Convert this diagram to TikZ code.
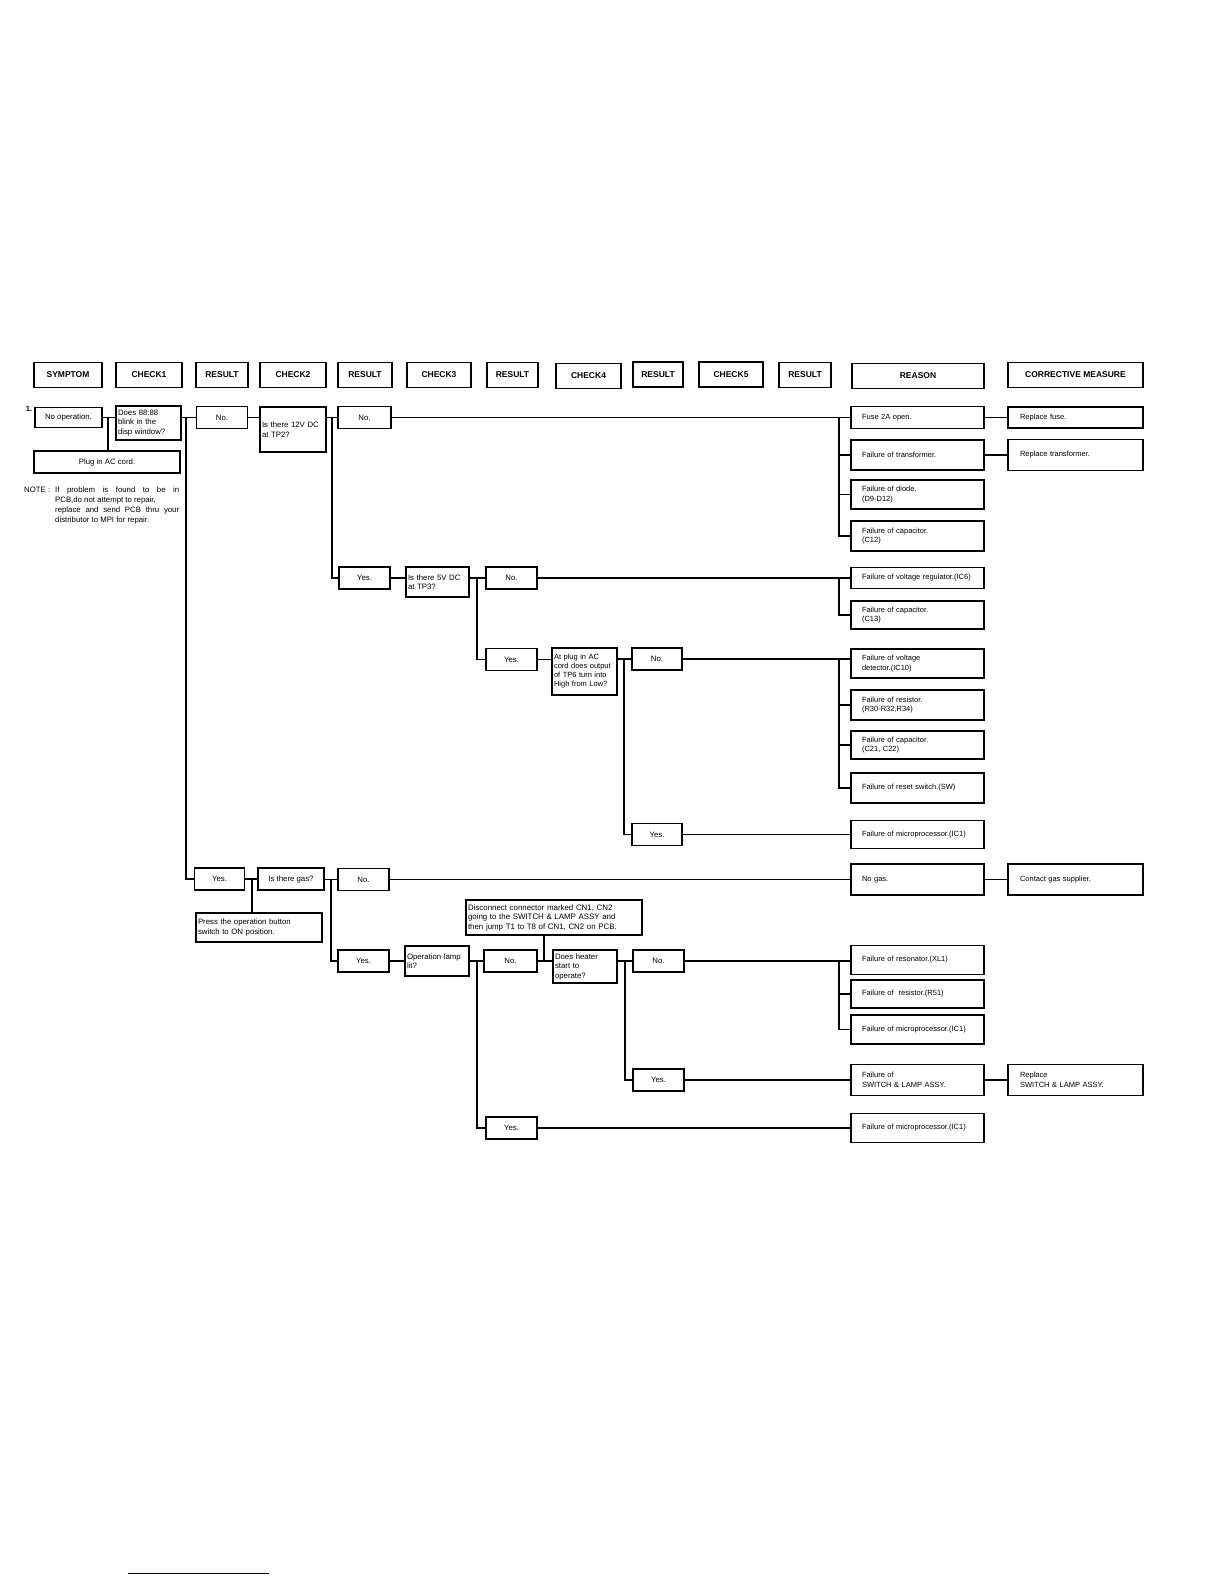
\documentclass[tikz,border=0pt]{standalone}
\usepackage{fontspec}
\setmainfont{Liberation Sans}
\usepackage{tikz}

\tikzset{
  hd/.style={draw, line width=1.9pt, minimum height=25pt, minimum width=#1, inner sep=0pt, font=\bfseries\fontsize{8.5}{10}\selectfont},
  bx/.style={draw, line width=1.5pt, inner sep=2pt, font=\fontsize{7.8}{9.5}\selectfont},
  res/.style={bx, minimum width=51pt, minimum height=22pt},
  qbox/.style={bx, align=left, text width=#1},
  reason/.style={bx, align=left, text width=111pt, inner xsep=11pt, minimum height=#1, font=\fontsize{7.5}{9.5}\selectfont},
  fix/.style={bx, align=left, text width=111pt, inner xsep=12pt, minimum height=#1, font=\fontsize{7.5}{9.5}\selectfont},
  wire/.style={line width=1.5pt},
}

\begin{document}
\begin{tikzpicture}[x=1pt, y=-1pt]
    \useasboundingbox (0,0) rectangle (1224,1584);

    % Headers
    \node[hd=68pt] (hsym) at (68,375) {SYMPTOM};
    \node[hd=66pt] (hchk1) at (149,375) {CHECK1};
    \node[hd=52pt] (hres1) at (222,375) {RESULT};
    \node[hd=66pt] (hchk2) at (293,375) {CHECK2};
    \node[hd=54pt] (hres2) at (365,375) {RESULT};
    \node[hd=64pt] (hchk3) at (439,375) {CHECK3};
    \node[hd=51pt] (hres3) at (512.5,375) {RESULT};
    \node[hd=65pt] (hchk4) at (588.5,376) {CHECK4};
    \node[hd=50pt] (hres4) at (658,374.5) {RESULT};
    \node[hd=64pt] (hchk5) at (731,374.5) {CHECK5};
    \node[hd=52pt] (hres5) at (805,375) {RESULT};
    \node[hd=132pt] (hreason) at (918,376) {REASON};
    \node[hd=135pt] (hfix) at (1075.5,375) {CORRECTIVE MEASURE};

    % Symptom and note
    \node[font=\bfseries\fontsize{7.5}{9}\selectfont] (num) at (29,409) {1.};
    \node[bx, minimum width=67pt, minimum height=20pt] (sym) at (68.5,417.5) {No operation.};
    \node[qbox=61pt, minimum height=34pt] (chk1) at (148.5,423) {Does 88:88\\blink in the\\disp window?};
    \node[bx, minimum width=146pt, minimum height=22pt] (plug) at (107,462) {Plug in AC cord.};
    \node[anchor=north west, inner sep=0pt, font=\fontsize{7.8}{10}\selectfont] (notehd) at (24,487) {NOTE :};
    \node[anchor=north west, inner sep=0pt, align=left, font=\fontsize{7.8}{10}\selectfont] (note) at (55,487)
        {\makebox[124pt][s]{If problem is found to be in}\\PCB,do not attempt to repair,\\\makebox[124pt][s]{replace and send PCB thru your}\\distributor to MPI for repair.};

    % Power supply branch
    \node[res] (r1No) at (222,417.5) {No.};
    \node[qbox=62pt, minimum height=45pt] (chk2) at (293,429.5) {Is there 12V DC\\at TP2?};
    \node[res, minimum width=53pt] (r2No) at (364.5,417.5) {No.};
    \node[reason=22pt] (fuse) at (917.5,417.5) {Fuse 2A open.};
    \node[reason=30pt] (trans) at (917.5,455) {Failure of transformer.};
    \node[reason=29pt] (diode) at (917.5,494.5) {Failure of diode.\\(D9-D12)};
    \node[reason=30pt] (c12) at (917.5,536) {Failure of capacitor.\\(C12)};
    \node[fix=21pt] (fixfuse) at (1075.5,417.5) {Replace fuse.};
    \node[fix=31pt] (fixtrans) at (1075.5,455) {Replace transformer.};

    \node[res] (y2) at (364.5,578) {Yes.};
    \node[qbox=59pt, minimum height=30pt] (chk3) at (437.5,582) {Is there 5V DC\\at TP3?};
    \node[res] (r3No) at (511.5,578) {No.};
    \node[reason=21pt] (reg) at (917.5,578) {Failure of voltage regulator.(IC6)};
    \node[reason=28pt] (c13) at (917.5,615) {Failure of capacitor.\\(C13)};

    \node[res] (y3) at (511.5,659.5) {Yes.};
    \node[qbox=61pt, minimum height=47pt, font=\fontsize{7.5}{9}\selectfont] (chk4) at (584.5,671.5) {At plug in AC\\cord does output\\of TP6 turn into\\High from Low?};
    \node[res, minimum width=50pt] (r4No) at (657,659) {No.};
    \node[reason=29pt] (det) at (917.5,663.5) {Failure of voltage\\detector.(IC10)};
    \node[reason=30pt] (resist) at (917.5,705) {Failure of resistor.\\(R30-R32,R34)};
    \node[reason=28pt] (c21) at (917.5,745) {Failure of capacitor.\\(C21, C22)};
    \node[reason=30pt] (sw) at (917.5,788) {Failure of reset switch.(SW)};

    \node[res, minimum width=50pt] (y4) at (657,834.5) {Yes.};
    \node[reason=28pt] (mic1) at (917.5,834.5) {Failure of microprocessor.(IC1)};

    % Gas branch
    \node[res, minimum width=50pt] (y1) at (219.5,879) {Yes.};
    \node[bx, minimum width=66pt, minimum height=22pt] (gas) at (291,879) {Is there gas?};
    \node[qbox=122pt, minimum height=29pt] (press) at (259,927.5) {Press the operation button\\switch to ON position.};
    \node[res] (r5No) at (363.5,879.5) {No.};
    \node[reason=31pt] (nogas) at (917.5,879.5) {No gas.};
    \node[fix=31pt] (contact) at (1075.5,879.5) {Contact gas supplier.};

    \node[res] (y5) at (363.5,961) {Yes.};
    \node[qbox=60pt, minimum height=30pt] (lamp) at (437,961) {Operation lamp\\lit?};
    \node[res, minimum width=53pt] (r6No) at (510.5,961) {No.};
    \node[qbox=172pt, minimum height=35pt, font=\fontsize{7.9}{9.5}\selectfont] (disc) at (554,917.5) {Disconnect connector marked CN1, CN2\\going to the SWITCH \& LAMP ASSY and\\then jump T1 to T8 of CN1, CN2 on PCB.};
    \node[qbox=60pt, minimum height=33pt] (heat) at (585,966.5) {Does heater\\start to\\operate?};
    \node[res] (r7No) at (658.5,961) {No.};
    \node[reason=29pt] (xl1) at (917.5,960) {Failure of resonator.(XL1)};
    \node[reason=28pt] (r51) at (917.5,994) {Failure of~~resistor.(R51)};
    \node[reason=29pt] (mic2) at (917.5,1029.5) {Failure of microprocessor.(IC1)};

    \node[res] (y6) at (658.5,1080) {Yes.};
    \node[reason=31pt] (swfail) at (917.5,1080) {Failure of\\SWITCH \& LAMP ASSY.};
    \node[fix=31pt] (fixsw) at (1075.5,1080) {Replace\\SWITCH \& LAMP ASSY.};

    \node[res] (y7) at (511.5,1128) {Yes.};
    \node[reason=29pt] (mic3) at (917.5,1128) {Failure of microprocessor.(IC1)};

    % Junctions
    \coordinate (jplug) at (108,417.5);
    \coordinate (s1) at (186,417.5);
    \coordinate (s2) at (332,417.5);
    \coordinate (g1) at (839,417.5);
    \coordinate (s3) at (477,578);
    \coordinate (g2) at (839,578);
    \coordinate (s4) at (624,659);
    \coordinate (g3) at (839,659);
    \coordinate (jpress) at (252,879);
    \coordinate (s5) at (331,879.5);
    \coordinate (s6) at (477,961);
    \coordinate (jdisc) at (544,961);
    \coordinate (s7) at (625,961);
    \coordinate (g4) at (839,961);

    % Lines
    \draw[wire] (sym.east) -- (sym.east -| chk1.west);
    \draw[wire] (jplug) -- (jplug |- plug.north);
    \draw[wire] (chk1.east |- r1No) -- (r1No.west);
    \draw[wire] (s1) |- (y1.west);
    \draw[wire] (r1No.east) -- (r1No.east -| chk2.west);
    \draw[wire] (chk2.east |- r2No) -- (r2No.west);
    \draw[wire] (s2) |- (y2.west);
    \draw[wire] (r2No.east) -- (fuse.west);
    \draw[wire] (g1) |- (c12.west);
    \draw[wire] (g1 |- trans) -- (trans.west);
    \draw[wire] (g1 |- diode) -- (diode.west);
    \draw[wire] (fuse) -- (fixfuse);
    \draw[wire] (trans) -- (fixtrans);

    \draw[wire] (y2.east) -- (y2.east -| chk3.west);
    \draw[wire] (chk3.east |- r3No) -- (r3No.west);
    \draw[wire] (s3) |- (y3.west);
    \draw[wire] (r3No.east) -- (reg.west);
    \draw[wire] (g2) |- (c13.west);

    \draw[wire] (y3.east) -- (y3.east -| chk4.west);
    \draw[wire] (chk4.east |- r4No) -- (r4No.west);
    \draw[wire] (s4) |- (y4.west);
    \draw[wire] (r4No.east) -- (r4No.east -| det.west);
    \draw[wire] (g3) |- (sw.west);
    \draw[wire] (g3 |- resist) -- (resist.west);
    \draw[wire] (g3 |- c21) -- (c21.west);
    \draw[wire] (y4.east) -- (mic1.west);

    \draw[wire] (y1.east) -- (y1.east -| gas.west);
    \draw[wire] (jpress) -- (jpress |- press.north);
    \draw[wire] (gas.east |- r5No) -- (r5No.west);
    \draw[wire] (s5) |- (y5.west);
    \draw[wire] (r5No.east) -- (nogas.west);
    \draw[wire] (nogas) -- (contact);

    \draw[wire] (y5.east) -- (y5.east -| lamp.west);
    \draw[wire] (lamp.east |- r6No) -- (r6No.west);
    \draw[wire] (s6) |- (y7.west);
    \draw[wire] (r6No.east) -- (r6No.east -| heat.west);
    \draw[wire] (disc.south -| jdisc) -- (jdisc);
    \draw[wire] (heat.east |- r7No) -- (r7No.west);
    \draw[wire] (s7) |- (y6.west);
    \draw[wire] (r7No.east) -- (r7No.east -| xl1.west);
    \draw[wire] (g4) |- (mic2.west);
    \draw[wire] (g4 |- r51) -- (r51.west);
    \draw[wire] (y6.east) -- (swfail.west);
    \draw[wire] (swfail) -- (fixsw);
    \draw[wire] (y7.east) -- (mic3.west);

    % Footnote rule
    \draw[line width=0.8pt] (128,1573) -- (269,1573);
\end{tikzpicture}
\end{document}
